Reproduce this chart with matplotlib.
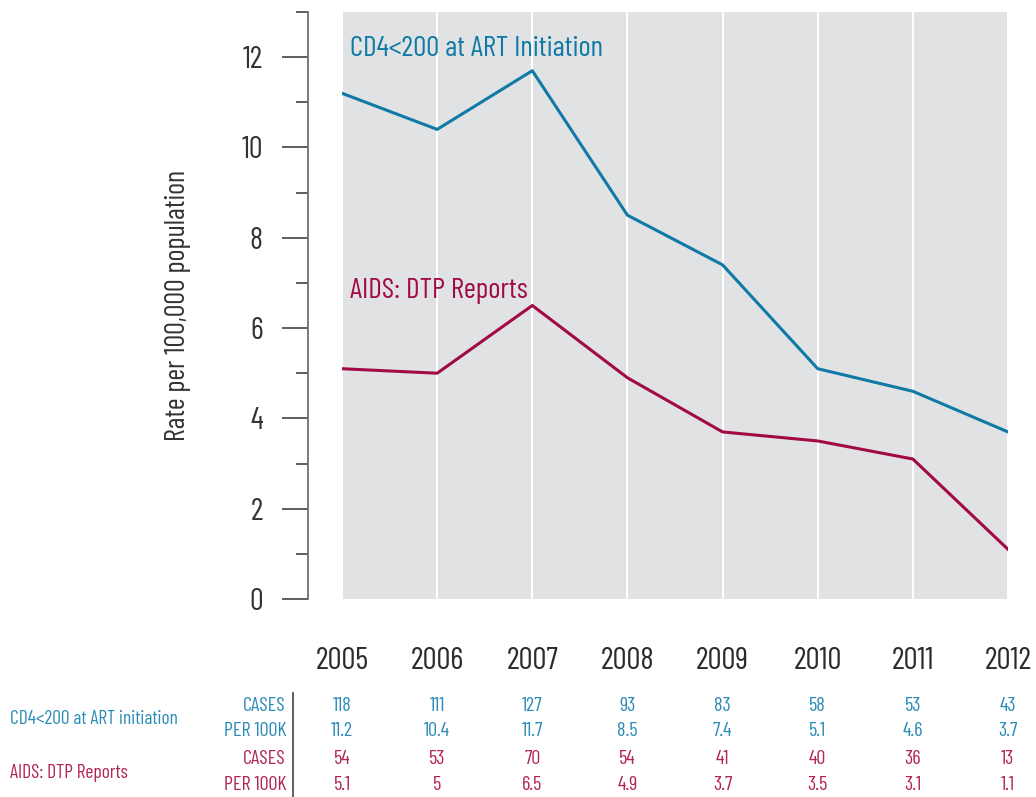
import numpy as np
import matplotlib
matplotlib.use('Agg')
import matplotlib.pyplot as plt
import matplotlib.transforms as mtransforms

years = [2005, 2006, 2007, 2008, 2009, 2010, 2011, 2012]
cd4_cases = [118, 111, 127, 93, 83, 58, 53, 43]
cd4_rate = [11.2, 10.4, 11.7, 8.5, 7.4, 5.1, 4.6, 3.7]
aids_cases = [54, 53, 70, 54, 41, 40, 36, 13]
aids_rate = [5.1, 5, 6.5, 4.9, 3.7, 3.5, 3.1, 1.1]

blue = '#0f7aa5'
red = '#a10a45'
blue_txt = '#2a8bb6'
red_txt = '#b22358'

plt.rcParams['font.family'] = ['Barlow Condensed', 'Roboto Condensed', 'DejaVu Sans']

fig = plt.figure(figsize=(10.36, 7.97), dpi=100)
ax = fig.add_axes([342/1036, 1-599/797, (1008-342)/1036, (599-12)/797])
ax.set_facecolor('#e1e2e4')

ax.plot(years, cd4_rate, color=blue, lw=2.2, zorder=3)
ax.plot(years, aids_rate, color=red, lw=2.2, zorder=3)

for y in years:
    ax.axvline(y, color='white', lw=1.4, zorder=1)

ax.set_xlim(2005, 2012)
ax.set_ylim(0, 13)
ax.set_yticks([0, 2, 4, 6, 8, 10, 12])
ax.set_yticks([1, 3, 5, 7, 9, 11, 13], minor=True)
ax.set_xticks([])

for s in ['top', 'right', 'bottom']:
    ax.spines[s].set_visible(False)
ax.spines['left'].set_position(('outward', 24.5))
ax.spines['left'].set_color('#6e6e6e')
ax.spines['left'].set_linewidth(1.3)
ax.tick_params(axis='y', which='major', length=18.5, width=1.1, color='#333333',
               labelsize=22, labelcolor='#333333', pad=14)
ax.tick_params(axis='y', which='minor', length=9, width=1.1, color='#333333')
ax.set_ylabel('Rate per 100,000 population', fontsize=20.5, color='#333333', labelpad=36)

ax.text(2005.08, 12.18, 'CD4<200 at ART Initiation', color=blue, fontsize=21, va='center')
ax.text(2005.08, 6.82, 'AIDS: DTP Reports', color=red, fontsize=21, va='center')

# year labels and table below the plot
trans = mtransforms.blended_transform_factory(ax.transData, fig.transFigure)
for i, y in enumerate(years):
    fig.text(y, 1-661/797, str(y), transform=trans, ha='center', va='center',
             fontsize=22.5, color='#2b2b2b')
    fig.text(y, 1-706/797, str(cd4_cases[i]), transform=trans, ha='center', va='center',
             fontsize=14.5, color=blue_txt)
    fig.text(y, 1-731/797, str(cd4_rate[i]), transform=trans, ha='center', va='center',
             fontsize=14.5, color=blue_txt)
    fig.text(y, 1-759/797, str(aids_cases[i]), transform=trans, ha='center', va='center',
             fontsize=14.5, color=red_txt)
    fig.text(y, 1-785/797, str(aids_rate[i]), transform=trans, ha='center', va='center',
             fontsize=14.5, color=red_txt)

row_labels = ['CASES', 'PER 100K', 'CASES', 'PER 100K']
row_y = [706, 731, 759, 785]
row_col = [blue_txt, blue_txt, red_txt, red_txt]
for lab, yy, c in zip(row_labels, row_y, row_col):
    fig.text(286/1036, 1-yy/797, lab, ha='right', va='center', fontsize=14.5, color=c)

fig.add_artist(plt.Line2D([293/1036, 293/1036], [1-693/797, 0], color='#444444', lw=1.2))

fig.text(10/1036, 1-719/797, 'CD4<200 at ART initiation', ha='left', va='center',
         fontsize=14, color=blue_txt)
fig.text(10/1036, 1-773/797, 'AIDS: DTP Reports', ha='left', va='center',
         fontsize=14, color=red_txt)

fig.savefig('out.png', dpi=100)
